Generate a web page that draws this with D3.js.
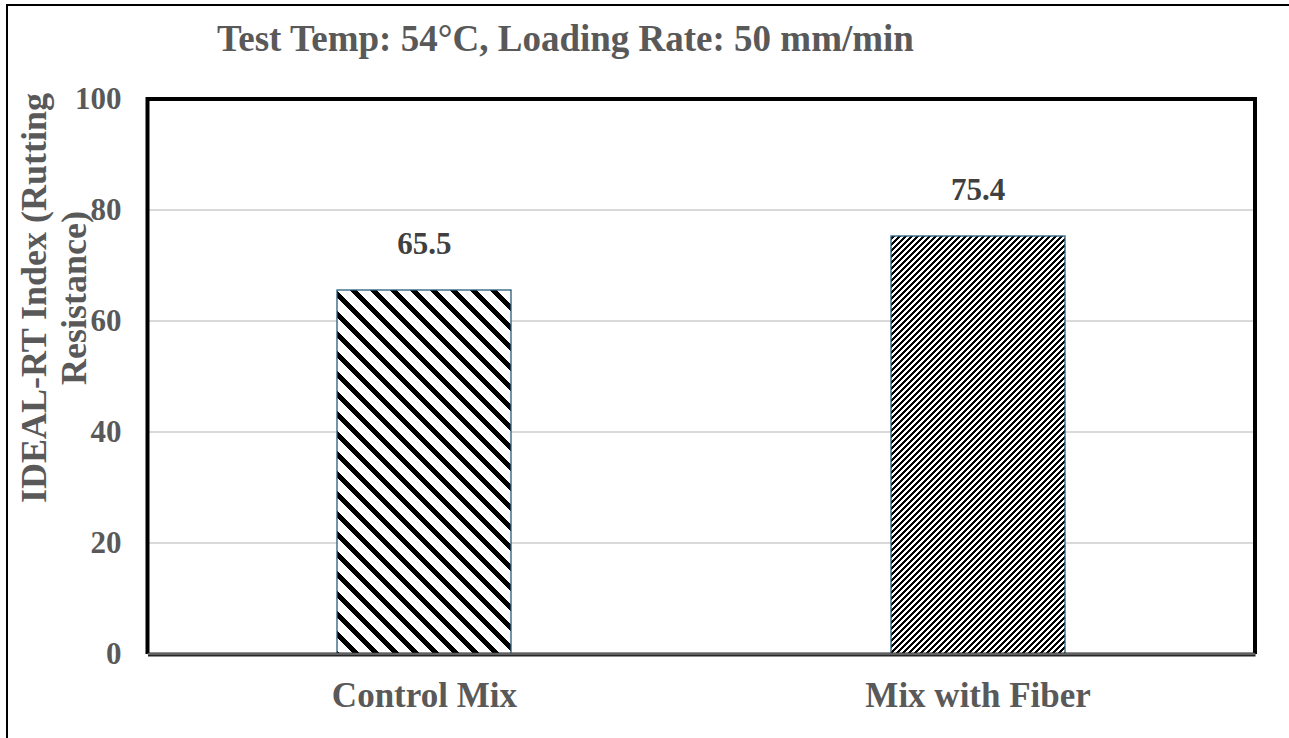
<!DOCTYPE html>
<html>
<head>
<meta charset="utf-8">
<script src="https://cdn.jsdelivr.net/npm/d3@7"></script>
<style>
  html, body { margin: 0; padding: 0; background: #fff; }
  svg { display: block; }
  text { font-family: "Liberation Serif", "Times New Roman", serif; font-weight: bold; }
</style>
</head>
<body>
<svg id="chart" width="1289" height="738"></svg>
<script>
// Chart data
const categories = ["Control Mix", "Mix with Fiber"];
const values = [65.5, 75.4];
const valueLabels = ["65.5", "75.4"];
const yTicks = [0, 20, 40, 60, 80, 100];
const titleText = "Test Temp: 54°C, Loading Rate: 50 mm/min";
const yTitleLines = ["IDEAL-RT Index (Rutting", "Resistance)"];

const svg = d3.select("#chart");
const W = 1289, H = 738;
const plot = { left: 147.5, right: 1255, top: 99, bottom: 654 };

// Outer frame
svg.append("rect")
  .attr("x", 7).attr("y", 5).attr("width", W + 20).attr("height", H + 20)
  .attr("fill", "#fff").attr("stroke", "#000").attr("stroke-width", 2);

// Pixel hatch fills: black where ((x ± y) mod period) < thickness
const defs = svg.append("defs");
function pixelHatch(id, period, thickness, dir) {
  const p = defs.append("pattern")
    .attr("id", id)
    .attr("patternUnits", "userSpaceOnUse")
    .attr("width", period).attr("height", period);
  p.append("rect").attr("width", period).attr("height", period).attr("fill", "#fff");
  const cells = [];
  for (let yy = 0; yy < period; yy++) {
    for (let xx = 0; xx < period; xx++) {
      const k = ((dir > 0 ? xx + yy : xx - yy) % period + period) % period;
      if (k < thickness) cells.push([xx, yy]);
    }
  }
  p.selectAll("rect.px").data(cells).join("rect")
    .attr("class", "px")
    .attr("x", d => d[0]).attr("y", d => d[1])
    .attr("width", 1).attr("height", 1)
    .attr("fill", "#000")
    .attr("shape-rendering", "crispEdges");
}
pixelHatch("hatchWide", 20, 7, -1);   // wide downward diagonal
pixelHatch("hatchDense", 6, 3, 1);    // narrow upward diagonal
const fills = ["url(#hatchWide)", "url(#hatchDense)"];

// Scales
const x = d3.scaleBand()
  .domain(categories)
  .range([plot.left, plot.right])
  .paddingInner(0.686)
  .paddingOuter(0.343);
const y = d3.scaleLinear().domain([0, 100]).range([plot.bottom, plot.top]);

// Gridlines
svg.append("g")
  .selectAll("line")
  .data(yTicks.filter(t => t > 0 && t < 100))
  .join("line")
  .attr("x1", plot.left).attr("x2", plot.right)
  .attr("y1", d => y(d)).attr("y2", d => y(d))
  .attr("stroke", "#d9d9d9").attr("stroke-width", 2);

// Y axis tick labels
const yAxis = d3.axisLeft(y).tickValues(yTicks).tickSize(0).tickPadding(26);
const gy = svg.append("g").attr("transform", `translate(${plot.left},0)`).call(yAxis);
gy.select(".domain").remove();
gy.selectAll("text")
  .attr("fill", "#595959")
  .style("font-size", "31px")
  .style("font-family", "'Liberation Serif', 'Times New Roman', serif")
  .style("font-weight", "bold");

// Bars
svg.append("g")
  .selectAll("rect")
  .data(categories)
  .join("rect")
  .attr("x", d => Math.round(x(d)))
  .attr("y", (d, i) => Math.round(y(values[i])))
  .attr("width", Math.round(x.bandwidth()))
  .attr("height", (d, i) => Math.round(y(0)) - Math.round(y(values[i])))
  .attr("fill", (d, i) => fills[i])
  .attr("stroke", "#2a5d7c")
  .attr("stroke-width", 1.3);

// Value labels
svg.append("g")
  .selectAll("text")
  .data(categories)
  .join("text")
  .attr("x", d => x(d) + x.bandwidth() / 2)
  .attr("y", (d, i) => y(values[i]) - 36)
  .attr("text-anchor", "middle")
  .attr("fill", "#404040")
  .style("font-size", "31px")
  .text((d, i) => valueLabels[i]);

// Plot border
svg.append("path")
  .attr("d", `M${plot.left},${plot.bottom} V${plot.top} H${plot.right} V${plot.bottom}`)
  .attr("fill", "none").attr("stroke", "#000").attr("stroke-width", 4);

// Category axis
const xAxis = d3.axisBottom(x).tickSize(0).tickPadding(28);
const gx = svg.append("g").attr("transform", `translate(0,${plot.bottom})`).call(xAxis);
gx.select(".domain")
  .attr("stroke", "#262626").attr("stroke-width", 4);
gx.append("line")
  .attr("x1", plot.left).attr("x2", plot.right)
  .attr("y1", 0).attr("y2", 0)
  .attr("stroke", "#9a9a9a").attr("stroke-width", 1);
gx.selectAll("text")
  .attr("fill", "#595959")
  .attr("dy", "0.71em")
  .style("font-size", "35px")
  .style("font-family", "'Liberation Serif', 'Times New Roman', serif")
  .style("font-weight", "bold");

// Title
svg.append("text")
  .attr("x", 217).attr("y", 51)
  .attr("fill", "#595959")
  .style("font-size", "37px")
  .text(titleText);

// Y axis title (two lines, rotated)
const yt = svg.append("text")
  .attr("transform", "translate(46,298) rotate(-90)")
  .attr("text-anchor", "middle")
  .attr("fill", "#595959")
  .style("font-size", "36px");
yt.selectAll("tspan")
  .data(yTitleLines)
  .join("tspan")
  .attr("x", 0)
  .attr("dy", (d, i) => i === 0 ? 0 : 40)
  .text(d => d);
</script>
</body>
</html>
